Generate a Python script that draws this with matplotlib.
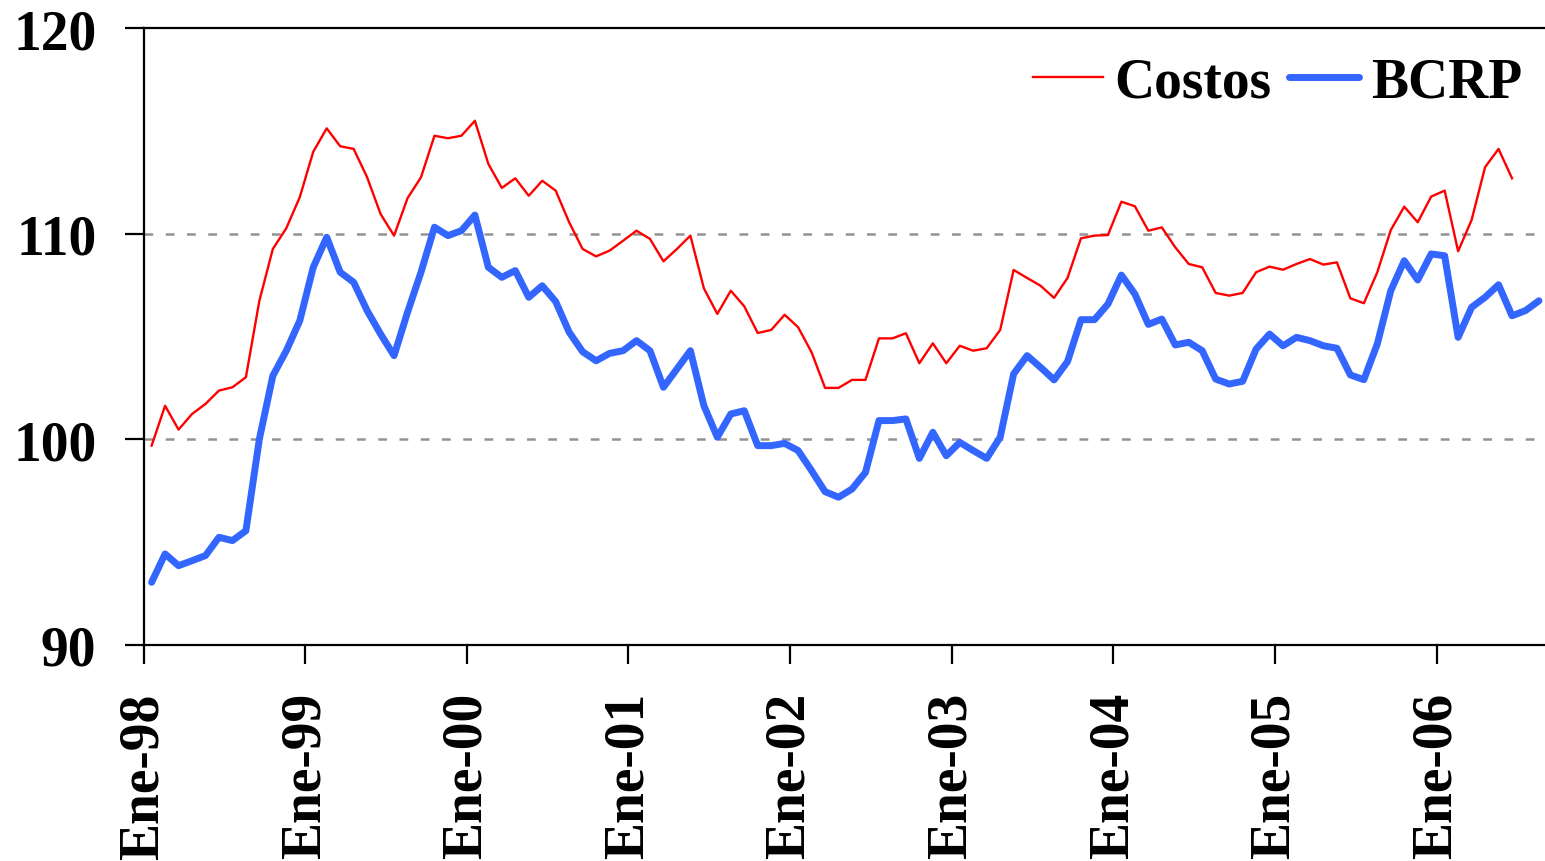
import matplotlib
matplotlib.use('Agg')
import matplotlib.pyplot as plt
import numpy as np

# Monthly index values, Jan-98 onwards
costos = [
    99.70, 101.64, 100.48, 101.24, 101.73, 102.38, 102.54, 103.03, 106.75, 109.27, 110.28, 111.79,
    114.00, 115.14, 114.27, 114.14, 112.76, 110.97, 109.92, 111.74, 112.76, 114.78, 114.66, 114.78,
    115.51, 113.41, 112.24, 112.71, 111.86, 112.59, 112.11, 110.57, 109.27, 108.91, 109.19, 109.67,
    110.16, 109.76, 108.67, 109.27, 109.92, 107.36, 106.11, 107.24, 106.48, 105.18, 105.33, 106.07,
    105.46, 104.24, 102.51, 102.51, 102.90, 102.90, 104.92, 104.92, 105.17, 103.71, 104.68, 103.71,
    104.56, 104.32, 104.44, 105.33, 108.25, 107.86, 107.48, 106.89, 107.86, 109.79, 109.92, 109.95,
    111.57, 111.35, 110.16, 110.32, 109.35, 108.54, 108.38, 107.13, 107.00, 107.13, 108.14, 108.41,
    108.26, 108.54, 108.78, 108.51, 108.62, 106.87, 106.63, 108.14, 110.19, 111.33, 110.57, 111.82,
    112.11, 109.16, 110.68, 113.25, 114.14, 112.71,
]
bcrp = [
    93.05, 94.43, 93.86, 94.10, 94.35, 95.24, 95.08, 95.56, 100.02, 103.10, 104.32, 105.78,
    108.38, 109.84, 108.14, 107.65, 106.27, 105.13, 104.08, 106.19, 108.14, 110.33, 109.92, 110.16,
    110.92, 108.38, 107.89, 108.22, 106.92, 107.48, 106.71, 105.22, 104.27, 103.83, 104.19, 104.32,
    104.81, 104.32, 102.54, 103.43, 104.32, 101.65, 100.11, 101.24, 101.40, 99.70, 99.70, 99.81,
    99.46, 98.48, 97.46, 97.19, 97.59, 98.40, 100.92, 100.92, 101.00, 99.08, 100.35, 99.21,
    99.86, 99.46, 99.08, 100.11, 103.19, 104.08, 103.51, 102.90, 103.79, 105.83, 105.83, 106.59,
    108.00, 107.08, 105.60, 105.86, 104.60, 104.73, 104.32, 102.94, 102.70, 102.83, 104.40, 105.13,
    104.56, 104.97, 104.81, 104.56, 104.44, 103.14, 102.91, 104.65, 107.24, 108.70, 107.76, 109.03,
    108.94, 104.97, 106.43, 106.92, 107.53, 106.02, 106.27, 106.75,
]
tick_labels = ['Ene-98', 'Ene-99', 'Ene-00', 'Ene-01', 'Ene-02',
               'Ene-03', 'Ene-04', 'Ene-05', 'Ene-06']
y_ticks = [90, 100, 110, 120]

plt.rcParams['font.family'] = ['Liberation Serif', 'DejaVu Serif']
plt.rcParams['font.weight'] = 'bold'

fig = plt.figure(figsize=(15.45, 8.62), dpi=100)
ax = fig.add_axes([0.0929, 0.2506, 0.9071, 0.7152])

x_c = np.arange(len(costos)) + 0.6
x_b = np.arange(len(bcrp)) + 0.6

ax.plot(x_c, costos, color='#ff0000', lw=1.7, label='Costos', zorder=3)
ax.plot(x_b, bcrp, color='#3366ff', lw=5, label='BCRP',
        solid_joinstyle='round', solid_capstyle='round', zorder=4)

ax.set_xlim(0, 104.05)
ax.set_ylim(90, 120)
ax.set_yticks(y_ticks)
ax.set_xticks(np.arange(len(tick_labels)) * 12)
ax.set_xticklabels(tick_labels, rotation=90, va='top', ha='center')

for val in (100, 110):
    ax.axhline(val, color='#939393', lw=1.8, ls=(0, (3.5, 5)), zorder=1)

ax.spines['right'].set_visible(False)
for side in ('left', 'bottom', 'top'):
    ax.spines[side].set_linewidth(1.6)
    ax.spines[side].set_color('black')

ax.tick_params(axis='both', direction='out', length=14, width=1.6,
               labelsize=40, pad=20, colors='black')

leg = ax.legend(loc='upper right', ncol=2, frameon=False, fontsize=40,
                handlelength=1.26, handletextpad=0.22, columnspacing=0.3,
                borderpad=0, borderaxespad=0,
                bbox_to_anchor=(1522 / 1545, 1 - 57 / 862),
                bbox_transform=fig.transFigure)
for t in leg.get_texts():
    t.set_fontweight('bold')

fig.savefig('out.png', dpi=100, facecolor='white')
